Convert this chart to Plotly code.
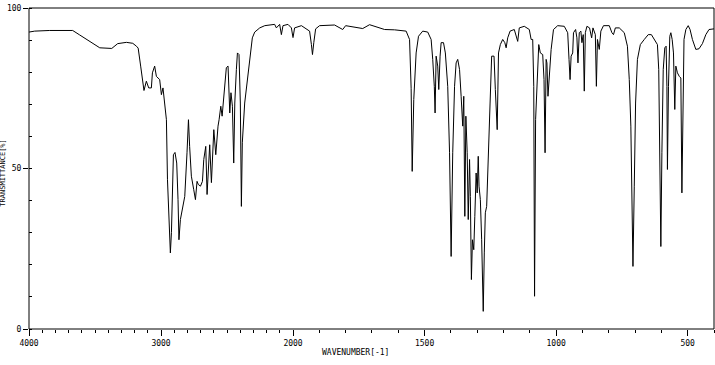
import numpy as np
import plotly.graph_objects as go

# wavenumber (cm-1) and transmittance (%)
wavenumber = [
    4000, 3957, 3843, 3669, 3616, 3540, 3464, 3373, 3328, 3262, 3214, 3186, 3173, 3154,
    3129, 3111, 3093, 3073, 3065, 3048, 3035, 3010, 2997, 2985, 2977, 2967, 2959, 2951,
    2941, 2934, 2929, 2921, 2914, 2906, 2894, 2881, 2871, 2864, 2853, 2838, 2820, 2803,
    2792, 2783, 2770, 2752, 2739, 2727, 2717, 2701, 2686, 2676, 2661, 2651, 2641, 2631,
    2618, 2606, 2600, 2585, 2576, 2568, 2560, 2547, 2537, 2517, 2505, 2492, 2479, 2470,
    2459, 2449, 2441, 2429, 2421, 2409, 2399, 2391, 2384, 2366, 2341, 2323, 2308, 2290,
    2252, 2214, 2139, 2126, 2101, 2088, 2076, 2038, 2012, 2000,
    1994, 1968, 1937, 1930, 1926, 1921, 1914, 1899, 1842, 1811, 1800, 1735, 1709, 1652,
    1614, 1570, 1557, 1551, 1547, 1541, 1532, 1523, 1507, 1488, 1475, 1469, 1463, 1460,
    1456, 1450, 1446, 1441, 1437, 1428, 1421, 1412, 1405, 1399, 1393, 1386, 1380, 1374,
    1367, 1361, 1355, 1351, 1347, 1343, 1338, 1334, 1329, 1326, 1322, 1318, 1313, 1309,
    1304, 1300, 1296, 1293, 1288, 1283, 1277, 1273, 1269, 1264, 1260, 1256, 1251, 1245,
    1236, 1231, 1224, 1219, 1212, 1203, 1195, 1190, 1184, 1175, 1159, 1146, 1140, 1121,
    1102, 1095, 1089, 1085, 1082, 1078, 1073, 1066, 1060, 1051, 1046, 1042, 1038, 1035,
    1031, 1026, 1019, 1010, 994, 969, 956, 951, 947, 943, 937, 934, 926, 921, 917, 912,
    906, 902, 897, 893, 889, 883, 873, 865, 860, 851, 847, 843, 836, 830, 820, 798, 788,
    782, 775, 760, 741, 729, 722, 716, 712, 708, 703, 698, 691, 680, 665, 650, 638, 627,
    615, 610, 606, 602, 598, 593, 587, 582, 579, 577, 573, 568, 564, 559, 554, 549, 545,
    539, 532, 526, 522, 518, 514, 507, 498, 491, 482, 469, 457, 444, 431, 419, 400,
]
transmittance = [
    92.5, 92.8, 93.0, 93.0, 91.6, 89.6, 87.6, 87.4, 88.9, 89.3, 89.0, 88.1, 87.5, 81.9,
    74.3, 77.2, 75.1, 75.1, 79.8, 81.9, 78.7, 77.7, 73.0, 75.1, 72.5, 69.4, 65.2, 46.5,
    34.1, 27.8, 23.7, 30.0, 45.6, 54.3, 55.0, 51.7, 40.3, 27.8, 34.1, 37.2, 41.3, 54.9,
    65.2, 56.9, 47.6, 43.4, 40.3, 46.0, 45.0, 44.5, 46.0, 52.8, 56.9, 41.9, 49.7, 57.4,
    45.6, 55.0, 62.1, 54.3, 61.1, 63.2, 65.2, 69.4, 66.3, 75.6, 81.4, 81.9, 67.3, 73.6,
    69.4, 51.7, 70.4, 80.8, 86.0, 85.5, 70.4, 38.2, 58.0, 70.4, 79.8, 86.0, 90.7, 92.5,
    93.8, 94.5, 94.9, 93.8, 94.9, 91.7, 94.5, 94.9, 93.8, 90.7,
    93.8, 94.5, 92.8, 88.6, 85.5, 89.2, 93.5, 94.5, 94.7, 93.3, 94.5, 93.6, 94.8, 93.3,
    93.2, 92.8, 90.2, 75.0, 49.1, 71.5, 86.0, 91.2, 92.8, 92.5, 90.2, 84.0, 75.6, 67.3,
    85.0, 81.9, 74.6, 85.0, 89.2, 89.2, 86.0, 75.6, 54.9, 22.6, 54.9, 75.6, 82.9, 84.0,
    80.8, 72.5, 63.2, 72.5, 35.1, 66.3, 54.9, 34.1, 52.8, 41.3, 15.4, 27.8, 24.7, 35.1,
    48.6, 42.4, 53.8, 44.5, 40.3, 27.8, 5.5, 23.7, 36.2, 38.2, 50.7, 59.0, 70.4, 85.0,
    85.0, 74.6, 62.1, 86.0, 88.6, 90.2, 89.2, 87.6, 90.7, 92.8, 93.3, 89.6, 93.8, 94.3,
    93.3, 90.2, 90.2, 75.6, 10.2, 65.2, 75.6, 88.6, 86.0, 85.5, 77.7, 54.9, 84.0, 82.9,
    72.5, 77.7, 87.1, 93.3, 94.5, 94.3, 92.3, 84.0, 77.7, 85.0, 86.0, 92.3, 93.3, 90.7, 82.9, 92.3,
    92.8, 89.2, 91.7, 74.1, 92.3, 94.3, 93.8, 90.7, 93.8, 91.7, 75.6, 90.2, 87.1, 92.8, 94.5, 94.5, 92.3,
    91.7, 93.8, 93.8, 92.3, 88.1, 77.7, 63.2, 34.1, 19.5, 44.5, 70.4, 84.0, 88.6, 90.2, 91.7, 91.7, 90.2,
    88.6, 80.8, 54.9, 25.7, 54.9, 80.8, 87.6, 88.1, 75.6, 49.7, 75.6, 91.2, 92.3, 90.2, 86.0, 68.4, 81.9,
    79.8, 78.7, 78.2, 42.4, 65.2, 90.2, 93.3, 94.5, 93.3, 90.2, 87.1, 87.3, 88.9, 91.7, 93.3, 93.5,
]

x_left_ticks = [4000, 3000, 2000]
x_right_ticks = [1500, 1000, 500]
y_ticks = [0, 50, 100]
x_title = "WAVENUMBER[-1]"
y_title = "TRANSMITTANCE[%]"

wn = np.array(wavenumber, dtype=float)
tr = np.array(transmittance, dtype=float)
hi = wn >= 2000
lo = wn <= 2000

FONT = "DejaVu Sans Mono"
line = dict(color="black", width=1)

fig = go.Figure()
fig.add_trace(go.Scatter(x=wn[hi], y=tr[hi], mode="lines", line=line,
                         xaxis="x", yaxis="y", showlegend=False, hoverinfo="skip"))
fig.add_trace(go.Scatter(x=wn[lo], y=tr[lo], mode="lines", line=line,
                         xaxis="x2", yaxis="y", showlegend=False, hoverinfo="skip"))

split = 264 / 685
common_x = dict(showgrid=False, zeroline=False, showline=False, ticks="outside",
                ticklen=6, tickwidth=1, tickcolor="black", automargin=False,
                tickfont=dict(family=FONT, size=8, color="black"),
                minor=dict(ticks="outside", ticklen=3, tickwidth=1, tickcolor="black", dtick=100))
fig.update_layout(
    width=715, height=365, autosize=False,
    margin=dict(l=29, r=1, t=8, b=36, pad=0),
    paper_bgcolor="white", plot_bgcolor="white",
    xaxis=dict(domain=[0, split], range=[4000, 2000], anchor="y",
               tickvals=x_left_ticks, ticktext=[str(v) for v in x_left_ticks],
               tick0=4000, **common_x),
    xaxis2=dict(domain=[split, 1], range=[2000, 400], anchor="y",
                tickvals=x_right_ticks, ticktext=[str(v) for v in x_right_ticks],
                tick0=2000, **common_x),
    yaxis=dict(range=[0, 100], showgrid=False, zeroline=False, showline=False,
               automargin=False,
               tickvals=y_ticks, ticktext=[str(v) for v in y_ticks],
               ticks="outside", ticklen=5, tickwidth=1, tickcolor="black",
               tickfont=dict(family=FONT, size=8, color="black"),
               minor=dict(ticks="inside", ticklen=3, tickwidth=1, tickcolor="black",
                          dtick=10, tick0=0)),
    shapes=[dict(type="rect", xref="paper", yref="paper", x0=0, x1=1, y0=0, y1=1,
                 line=dict(color="black", width=1))],
    annotations=[
        dict(text=x_title, xref="paper", yref="paper", x=0.477, y=-0.074,
             showarrow=False, font=dict(family=FONT, size=8, color="black"),
             xanchor="center", yanchor="middle"),
        dict(text=y_title, xref="paper", yref="paper", x=-0.038, y=0.487,
             showarrow=False, textangle=-90, font=dict(family=FONT, size=7, color="black"),
             xanchor="center", yanchor="middle"),
    ],
)

fig.write_html("out.html", config={"responsive": False})
